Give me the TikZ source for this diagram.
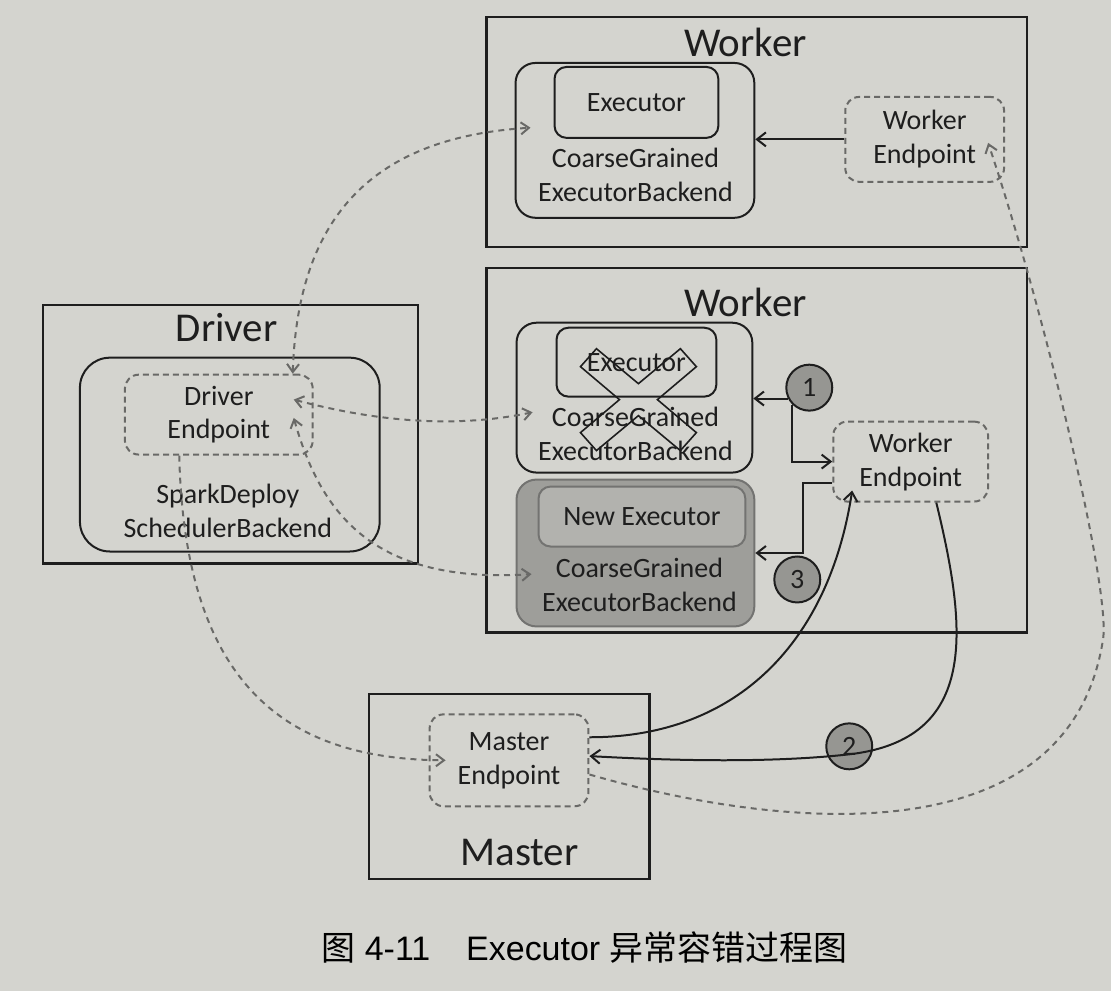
\documentclass[tikz,border=0pt]{standalone}
\usepackage{fontspec}
\setmainfont{Carlito}
\newfontfamily\cjk{Noto Sans CJK SC}
\newfontfamily\capfont{Liberation Sans}
\usetikzlibrary{arrows.meta}

\definecolor{paper}{RGB}{212,212,207}
\definecolor{ink}{RGB}{30,30,30}
\definecolor{dashink}{RGB}{105,105,103}
\definecolor{newline}{RGB}{115,115,113}
\definecolor{newfill}{RGB}{158,158,154}
\definecolor{newexec}{RGB}{178,178,174}
\definecolor{dotfill}{RGB}{150,150,146}

\begin{document}
\begin{tikzpicture}[x=1pt, y=-1pt,
    every node/.style={text=ink, inner sep=0pt, font=\fontsize{28}{34}\selectfont},
    host/.style={draw=ink, line width=2.2pt},
    backend/.style={draw=ink, line width=2pt, rounded corners=20pt},
    execbox/.style={draw=ink, line width=2pt, rounded corners=12pt},
    endpoint/.style={draw=dashink, line width=2pt, dash pattern=on 6pt off 4pt, rounded corners=14pt, align=center},
    title/.style={font=\fontsize{41}{45}\selectfont},
    backtext/.style={align=center},
    numdot/.style={circle, draw=ink, line width=2pt, fill=dotfill, minimum size=46pt},
    link/.style={draw=ink, line width=2pt, -{Straight Barb[length=9pt,width=14pt]}},
    rpc/.style={draw=dashink, line width=2pt, dash pattern=on 6pt off 5pt, {Straight Barb[length=8pt,width=12pt]}-{Straight Barb[length=8pt,width=12pt]}},
    rpcto/.style={rpc, -{Straight Barb[length=8pt,width=12pt]}},
]
\fill[paper] (0,0) rectangle (1112,992);

% upper worker
\node[host, minimum width=541, minimum height=230] (wk1) at (757.5,132) {};
\node[title] (wk1t) at (746,42) {Worker};
\node[backend, minimum width=239, minimum height=155] (cg1) at (635.5,140.5) {};
\node[execbox, minimum width=164, minimum height=71] (ex1) at (637,102.5) {Executor};
\node[backtext] (cg1t) at (636,175) {CoarseGrained\\ExecutorBackend};
\node[endpoint, minimum width=159, minimum height=85] (we1) at (925.5,139.5) {Worker\\Endpoint};

% lower worker
\node[host, minimum width=541, minimum height=365] (wk2) at (757.5,450.5) {};
\node[title] (wk2t) at (746,303) {Worker};
\node[backend, minimum width=236, minimum height=150] (cg2) at (635,398) {};
\node[execbox, minimum width=160, minimum height=69] (ex2) at (637,362.5) {Executor};
\node[backtext] (cg2t) at (636,434.5) {CoarseGrained\\ExecutorBackend};
\draw[ink, line width=1.6pt, shift={(639,400)}] (0,-16) -- (42,-51) -- (58,-33) -- (19,0) -- (58,33) -- (42,51)
  -- (0,16) -- (-42,51) -- (-58,33) -- (-19,0) -- (-58,-33) -- (-42,-51) -- cycle;
\node[backend, draw=newline, fill=newfill, minimum width=238, minimum height=147] (cg3) at (636,553.5) {};
\node[execbox, draw=newline, fill=newexec, minimum width=207, minimum height=60] (ex3) at (642.5,517) {New Executor};
\node[backtext] (cg3t) at (640,585.5) {CoarseGrained\\ExecutorBackend};
\node[endpoint, minimum width=155, minimum height=80] (we2) at (911.5,462) {Worker\\Endpoint};

% driver
\node[host, minimum width=375, minimum height=259] (dr) at (230.5,434.5) {};
\node[title] (drt) at (227,328) {Driver};
\node[backend, rounded corners=30pt, minimum width=300, minimum height=194] (sb) at (230,455) {};
\node[endpoint, minimum width=188, minimum height=80] (de) at (219,415) {Driver\\Endpoint};
\node[backtext] (sbt) at (228,511) {SparkDeploy\\SchedulerBackend};

% master
\node[host, minimum width=281, minimum height=185] (ms) at (509.5,787.5) {};
\node[title] (mst) at (520,853) {Master};
\node[endpoint, minimum width=159, minimum height=92] (me) at (509.5,761) {Master\\Endpoint};

% steps
\node[numdot] (c1) at (810,388) {1};
\node[numdot] (c3) at (798,580) {3};
\node[numdot] (c2) at (850,747) {2};

% solid links
\draw[link] (we1.west) -- (we1.west -| cg1.east);
\draw[link] (c1.207) -- (c1.207 -| cg2.east);
\draw[link] (c1.225) |- (we2.west);
\draw[link] (we2.195) -| ([xshift=48pt]cg3.east) -- (cg3.east);
\draw[link] (me.16) .. controls (740,738) and (830,640) .. ([yshift=12pt]we2.215);
\draw[link] (we2.-58) .. controls (968,630) and (980,740) .. ([yshift=-8pt]c2.center) .. controls (760,765) and (650,760) .. (me.3);

% dashed rpc
\draw[rpc] (de.29) .. controls (298,225) and (365,138) .. ([xshift=16pt]cg1.174);
\draw[rpc] ([xshift=-20pt]de.9) .. controls (370,420) and (450,430) .. ([xshift=17pt]cg2.187);
\draw[rpc] ([xshift=-20pt]de.-2) .. controls (320,510) and (370,585) .. ([xshift=16pt]cg3.190);
\draw[rpcto] (de.-134) .. controls (185,690) and (290,760) .. ([xshift=17pt]me.west);
\draw[rpcto] (me.-10) .. controls (780,830) and (1070,860) .. (1104,640) .. controls (1112,590) and (1045,310) .. ([shift={(-17pt,40pt)}]we1.south east);

% caption
\node[font=\fontsize{34}{36}\selectfont\capfont, text=black] (cap) at (585,948) {{\cjk 图} 4-11\hspace{36pt}Executor {\cjk 异常容错过程图}};
\end{tikzpicture}
\end{document}
